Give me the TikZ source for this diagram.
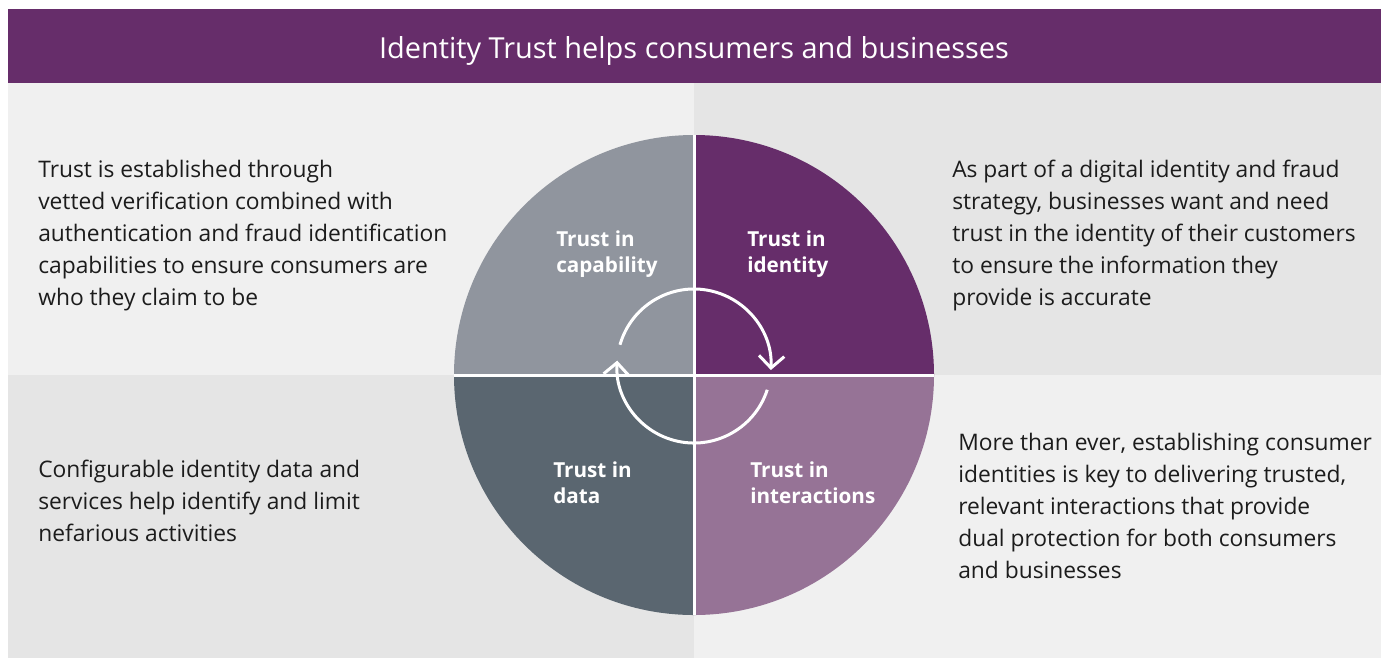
\documentclass[tikz,border=0pt]{standalone}
\usepackage{fontspec}
\setmainfont{Open Sans}
\usepackage{tikz}
\usetikzlibrary{arrows.meta}
\definecolor{headpurple}{RGB}{102,45,106}
\definecolor{capgray}{RGB}{144,149,158}
\definecolor{dataslate}{RGB}{90,102,112}
\definecolor{intermauve}{RGB}{150,115,150}
\definecolor{panellight}{RGB}{240,240,240}
\definecolor{paneldark}{RGB}{229,229,229}
\definecolor{bodytext}{RGB}{28,28,28}

\begin{document}
\begin{tikzpicture}[x=0.75pt,y=-0.75pt,>={Straight Barb[length=9pt,width=19pt]}]
 \tikzstyle{blurb}=[anchor=base west,align=left,inner sep=0pt,text=bodytext,font=\fontsize{17.1}{24}\selectfont]
 \tikzstyle{wedge label}=[anchor=base west,align=left,inner sep=0pt,text=white,font=\bfseries\fontsize{15.5}{19.5}\selectfont]
 \tikzstyle{divider}=[white,line width=2.25pt]
 \tikzstyle{cycle arrow}=[white,line width=2.25pt,->]

   \useasboundingbox[fill=white] (0,0) rectangle (1384,658);

   % background panels and header
   \fill[headpurple] (8,9) rectangle (1381,83);
   \fill[panellight] (8,83) rectangle (694,375);
   \fill[paneldark] (694,83) rectangle (1381,375);
   \fill[paneldark] (8,375) rectangle (694,658);
   \fill[panellight] (694,375) rectangle (1381,658);

   \node[anchor=base,inner sep=0pt,text=white,font=\fontsize{21.7}{26}\selectfont] (title) at (694,58) {Identity Trust helps consumers and businesses};

   % the four quarters of the wheel
   \coordinate (hub) at (694,375);
   \fill[capgray] (hub) -- ++(0,-240) arc[start angle=-90,end angle=-180,radius=240] -- cycle;
   \fill[headpurple] (hub) -- ++(0,-240) arc[start angle=-90,end angle=0,radius=240] -- cycle;
   \fill[intermauve] (hub) -- ++(240,0) arc[start angle=0,end angle=90,radius=240] -- cycle;
   \fill[dataslate] (hub) -- ++(0,240) arc[start angle=90,end angle=180,radius=240] -- cycle;
   \draw[divider] ([shift={(0,-240)}]hub) -- ([shift={(0,240)}]hub);
   \draw[divider] ([shift={(-240,0)}]hub) -- ([shift={(240,0)}]hub);

   % circular arrows in the middle
   \coordinate (spin) at (694,366);
   \draw[cycle arrow] ([shift={(-164:77)}]spin) arc[start angle=-164,end angle=3,radius=77];
   \draw[cycle arrow] ([shift={(18:77)}]spin) arc[start angle=18,end angle=184,radius=77];

   % labels sit on the baseline of their last line
   \node[wedge label] (capability) at (556,272) {Trust in\\capability};
   \node[wedge label] (identity) at (747,272) {Trust in\\identity};
   \node[wedge label] (data) at (553,503) {Trust in\\data};
   \node[wedge label] (interactions) at (750,503) {Trust in\\interactions};

   \node[blurb] (capnote) at (38,305) {Trust is established through\\vetted verification combined with\\authentication and fraud identification\\capabilities to ensure consumers are\\who they claim to be};
   \node[blurb] (idnote) at (952,305) {As part of a digital identity and fraud\\strategy, businesses want and need\\trust in the identity of their customers\\to ensure the information they\\provide is accurate};
   \node[blurb] (datanote) at (38,541) {Configurable identity data and\\services help identify and limit\\nefarious activities};
   \node[blurb] (internote) at (958,578) {More than ever, establishing consumer\\identities is key to delivering trusted,\\relevant interactions that provide\\dual protection for both consumers\\and businesses};

\end{tikzpicture}
\end{document}
